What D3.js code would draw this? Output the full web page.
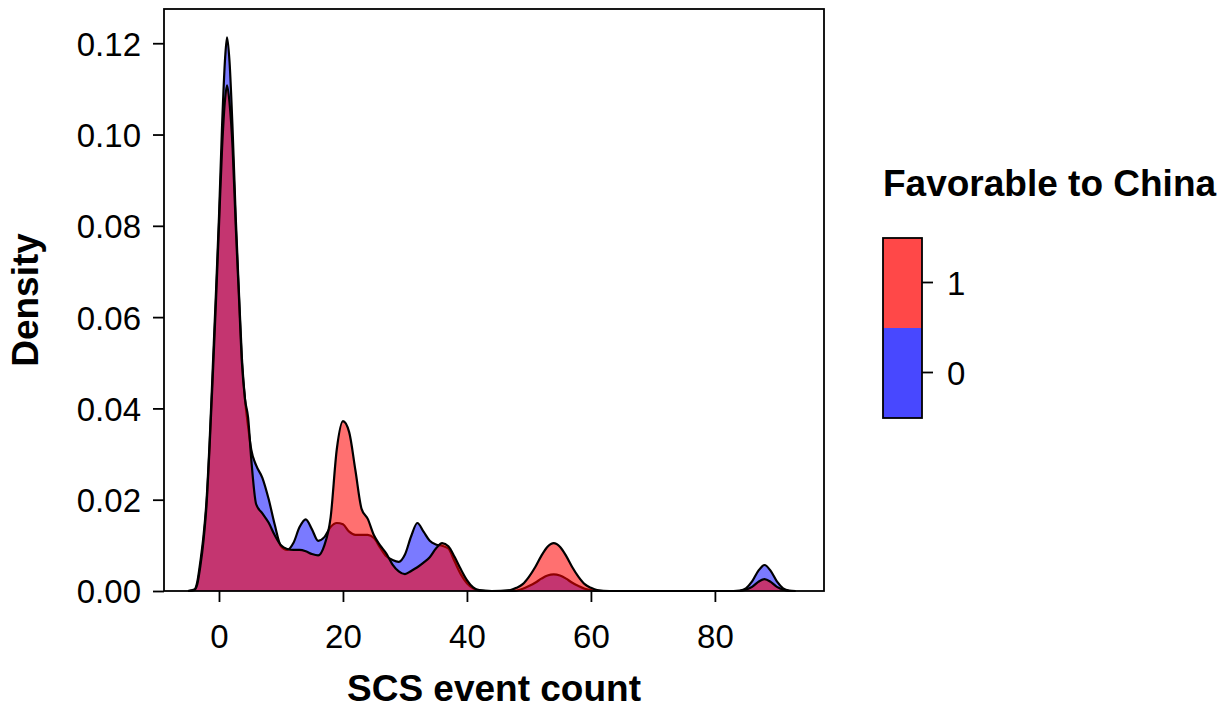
<!DOCTYPE html>
<html>
<head>
<meta charset="utf-8">
<script src="https://cdnjs.cloudflare.com/ajax/libs/d3/7.8.5/d3.min.js"></script>
<style>
  body { margin: 0; background: #fff; }
  text { font-family: "Liberation Sans", Arial, sans-serif; }
</style>
</head>
<body>
<div id="chart"></div>
<script>
// x grid shared by both density curves (SCS event count)
var eventCount = [-5, -4, -3.5, -3, -2.5, -2, -1.5, -1, -0.5, 0, 0.5, 1, 1.3, 1.7, 2.2, 2.7, 3.2, 3.7, 4.2, 4.7, 5.2,
  6, 7, 8, 9, 10, 11, 12, 13, 14, 15, 16, 17, 18, 19, 20, 21, 22, 23, 24, 25, 26, 27, 28, 29, 30,
  31, 32, 33, 34, 35, 36, 37, 38, 39, 40, 41, 42, 44, 47, 48, 49, 50, 51, 52, 53, 54, 55, 56, 57, 58,
  59, 60, 61, 63, 70, 80, 83, 84, 85, 86, 87, 88, 89, 90, 91, 92, 93];

// density, Favorable to China = 0
var density0 = [0, 0.0003, 0.002, 0.0065, 0.012, 0.020, 0.033, 0.049, 0.065, 0.082, 0.102, 0.117, 0.1213, 0.116, 0.101, 0.082, 0.066, 0.051, 0.042, 0.036, 0.031,
  0.0275, 0.0248, 0.0202, 0.0145, 0.0098, 0.0090, 0.0105, 0.0140, 0.0157, 0.0135, 0.0110, 0.0118, 0.0140, 0.0149, 0.0146, 0.0130, 0.0123, 0.0123, 0.0123, 0.0116, 0.0095, 0.0076, 0.0068, 0.0064, 0.0080,
  0.0120, 0.0149, 0.0130, 0.0110, 0.0102, 0.0099, 0.0093, 0.0065, 0.0037, 0.0017, 0.0006, 0.0001, 0, 0, 0.0001, 0.0005, 0.0011, 0.0018, 0.0027, 0.0034, 0.00365, 0.0034, 0.0027, 0.0018, 0.0011,
  0.0005, 0.0002, 0, 0, 0, 0, 0, 0.0001, 0.0006, 0.0021, 0.0044, 0.0057, 0.0044, 0.0021, 0.0006, 0.0001, 0];

// density, Favorable to China = 1
var density1 = [0, 0.0002, 0.0015, 0.0055, 0.011, 0.019, 0.032, 0.047, 0.063, 0.080, 0.097, 0.108, 0.1108, 0.107, 0.097, 0.080, 0.065, 0.050, 0.042, 0.038, 0.029,
  0.019, 0.0170, 0.0150, 0.0122, 0.0100, 0.0092, 0.0090, 0.0090, 0.0087, 0.0081, 0.0078, 0.0100, 0.0160, 0.0310, 0.0372, 0.0348, 0.0265, 0.0180, 0.0158, 0.0122, 0.0100, 0.0082, 0.0058, 0.0043, 0.0037,
  0.0044, 0.0052, 0.0062, 0.0074, 0.0093, 0.0105, 0.0098, 0.0075, 0.0048, 0.0024, 0.0008, 0.0002, 0, 0.0002, 0.0007, 0.0015, 0.0031, 0.0052, 0.0077, 0.0097, 0.0105, 0.0097, 0.0077, 0.0052, 0.0031,
  0.0015, 0.0007, 0.0002, 0, 0, 0, 0, 0, 0.0003, 0.0009, 0.0020, 0.0026, 0.0020, 0.0009, 0.0003, 0, 0];

var xTicks = [0, 20, 40, 60, 80];
var yTicks = [0, 0.02, 0.04, 0.06, 0.08, 0.10, 0.12];
var groups = ["0", "1"];
var fillColors = ["#0000ff", "#ff0000"];
var fillOpacity = [0.52, 0.56];
var legendColors = ["#4848ff", "#ff4848"];

var width = 1228, height = 710;
var plot = { left: 164, right: 824, top: 9, bottom: 591 };

var svg = d3.select("#chart").append("svg")
    .attr("width", width)
    .attr("height", height);

var x = d3.scaleLinear().domain([-8.87, 97.6]).range([plot.left, plot.right]);
var y = d3.scaleLinear().domain([0, 0.1275]).range([plot.bottom, plot.top]);

// density areas, group 0 first, group 1 on top
var series = [density0, density1];
series.forEach(function(vals, g) {
    var pts = eventCount.map(function(v, i) { return [v, vals[i]]; });

    var area = d3.area()
        .x(function(d) { return x(d[0]); })
        .y0(y(0))
        .y1(function(d) { return y(d[1]); })
        .curve(d3.curveMonotoneX);

    var line = d3.line()
        .x(function(d) { return x(d[0]); })
        .y(function(d) { return y(d[1]); })
        .curve(d3.curveMonotoneX);

    svg.append("path")
        .attr("d", area(pts))
        .attr("fill", fillColors[g])
        .attr("fill-opacity", fillOpacity[g]);

    svg.append("path")
        .attr("d", line(pts))
        .attr("fill", "none")
        .attr("stroke", "#000")
        .attr("stroke-width", 2.2)
        .attr("stroke-linejoin", "round");
});

// frame
svg.append("rect")
    .attr("x", plot.left)
    .attr("y", plot.top)
    .attr("width", plot.right - plot.left)
    .attr("height", plot.bottom - plot.top)
    .attr("fill", "none")
    .attr("stroke", "#000")
    .attr("stroke-width", 1.8);

// axes
var xAxis = svg.append("g")
    .attr("transform", "translate(0," + plot.bottom + ")")
    .call(d3.axisBottom(x).tickValues(xTicks).tickSize(11).tickPadding(10).tickFormat(d3.format("d")));

var yAxis = svg.append("g")
    .attr("transform", "translate(" + plot.left + ",0)")
    .call(d3.axisLeft(y).tickValues(yTicks).tickSize(11).tickPadding(12).tickFormat(d3.format(".2f")));

[xAxis, yAxis].forEach(function(ax) {
    ax.select(".domain").remove();
    ax.selectAll(".tick line").attr("stroke", "#000").attr("stroke-width", 1.8);
    ax.selectAll(".tick text")
        .attr("fill", "#000")
        .style("font-size", "33px")
        .style("font-family", "'Liberation Sans', Arial, sans-serif");
});
xAxis.selectAll(".tick text").attr("dy", null).attr("y", 57);
yAxis.selectAll(".tick text").attr("dy", "0.36em");

// axis titles
svg.append("text")
    .attr("x", (plot.left + plot.right) / 2)
    .attr("y", 701)
    .attr("text-anchor", "middle")
    .style("font-size", "37px")
    .style("font-weight", "bold")
    .text("SCS event count");

svg.append("text")
    .attr("transform", "translate(38," + (plot.top + plot.bottom) / 2 + ") rotate(-90)")
    .attr("text-anchor", "middle")
    .style("font-size", "37px")
    .style("font-weight", "bold")
    .text("Density");

// legend
var legend = svg.append("g");
legend.append("text")
    .attr("x", 883)
    .attr("y", 196)
    .style("font-size", "37px")
    .style("font-weight", "bold")
    .text("Favorable to China");

var keyScale = d3.scaleBand().domain(["1", "0"]).range([238, 418]);

legend.selectAll("rect.key")
    .data(["1", "0"])
    .enter()
    .append("rect")
    .attr("class", "key")
    .attr("x", 883)
    .attr("y", function(d) { return keyScale(d); })
    .attr("width", 39)
    .attr("height", keyScale.bandwidth())
    .attr("fill", function(d) { return legendColors[groups.indexOf(d)]; });

legend.append("rect")
    .attr("x", 883)
    .attr("y", 238)
    .attr("width", 39)
    .attr("height", 180)
    .attr("fill", "none")
    .attr("stroke", "#000")
    .attr("stroke-width", 1.8);

legend.selectAll("line.tick")
    .data(["1", "0"])
    .enter()
    .append("line")
    .attr("class", "tick")
    .attr("x1", 922)
    .attr("x2", 933)
    .attr("y1", function(d) { return keyScale(d) + keyScale.bandwidth() / 2 - 0.5; })
    .attr("y2", function(d) { return keyScale(d) + keyScale.bandwidth() / 2 - 0.5; })
    .attr("stroke", "#000")
    .attr("stroke-width", 1.8);

legend.selectAll("text.lab")
    .data(["1", "0"])
    .enter()
    .append("text")
    .attr("class", "lab")
    .attr("x", 947)
    .attr("y", function(d) { return keyScale(d) + keyScale.bandwidth() / 2; })
    .attr("dy", "0.36em")
    .style("font-size", "33px")
    .text(function(d) { return d; });
</script>
</body>
</html>
